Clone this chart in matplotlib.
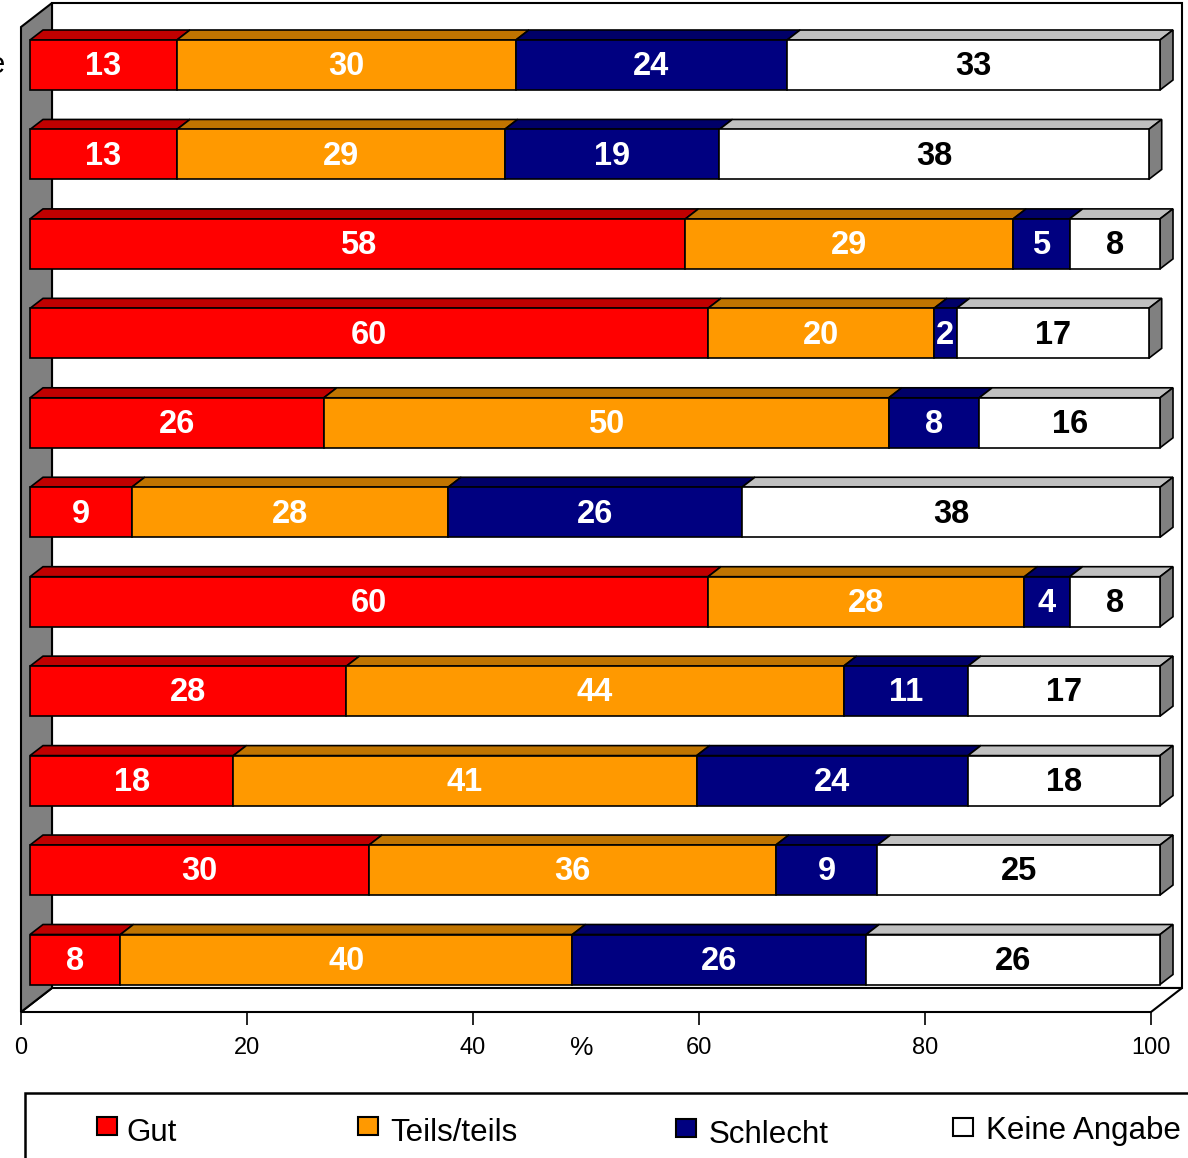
import matplotlib
matplotlib.use('Agg')
import matplotlib.pyplot as plt
from matplotlib.patches import Polygon, Rectangle
from matplotlib.transforms import ScaledTranslation

plt.rcParams['font.family'] = ['Liberation Sans', 'DejaVu Sans']

# data (percent per row, top row first)
series = ['Gut', 'Teils/teils', 'Schlecht', 'Keine Angabe']
gut = [13, 13, 58, 60, 26, 9, 60, 28, 18, 30, 8]
teils = [30, 29, 29, 20, 50, 28, 28, 44, 41, 36, 40]
schlecht = [24, 19, 5, 2, 8, 26, 4, 11, 24, 9, 26]
keine = [33, 38, 8, 17, 16, 37, 8, 17, 17, 25, 26]
keine_labels = ['33', '38', '8', '17', '16', '38', '8', '17', '18', '25', '26']

front_colors = ['#FF0000', '#FF9900', '#000080', '#FFFFFF']
top_colors = ['#C00000', '#C07400', '#000068', '#C0C0C0']
text_colors = ['white', 'white', 'white', 'black']

W, H = 1188, 1158
fig = plt.figure(figsize=(W / 100, H / 100), dpi=100)

# axes = front plane of the floor, pixel box 21..1151 x 27..1012
ax = fig.add_axes([21 / W, (H - 1012) / H, 1130 / W, 985 / H])
row_px = 89.45
y_low = (1012 - 65) / row_px
y_high = (27 - 65) / row_px

# 3d depth in data units
wall_dx, wall_dy = 31 / 11.3, 24 / row_px
bar_dx, bar_dy = 13 / 11.3, 10 / row_px
bar_h = 50 / row_px

# walls and floor
ax.add_patch(Rectangle((wall_dx, y_high - wall_dy), 100, y_low - y_high,
                       fc='white', ec='black', lw=1.5, clip_on=False, zorder=0))
ax.add_patch(Polygon([(0, y_low), (100, y_low), (100 + wall_dx, y_low - wall_dy),
                      (wall_dx, y_low - wall_dy)],
                     fc='white', ec='black', lw=1.5, clip_on=False, zorder=1))
ax.add_patch(Polygon([(0, y_low), (0, y_high), (wall_dx, y_high - wall_dy),
                      (wall_dx, y_low - wall_dy)],
                     fc='#808080', ec='black', lw=1.5, clip_on=False, zorder=1))

# bars sit a little behind the floor front
shift = ax.transData + ScaledTranslation(9 / 100, 0, fig.dpi_scale_trans)

rows = list(range(len(gut)))
values = [gut, teils, schlecht, keine]
lefts = [0] * len(rows)
for j, vals in enumerate(values):
    ax.barh(rows, vals, left=lefts, height=bar_h, color=front_colors[j],
            edgecolor='black', linewidth=1.2, transform=shift, clip_on=False, zorder=4)
    for i in rows:
        x0, x1 = lefts[i], lefts[i] + vals[i]
        yt, yb = i - bar_h / 2, i + bar_h / 2
        ax.add_patch(Polygon([(x0, yt), (x1, yt), (x1 + bar_dx, yt - bar_dy),
                              (x0 + bar_dx, yt - bar_dy)],
                             fc=top_colors[j], ec='black', lw=1.2,
                             transform=shift, clip_on=False, zorder=3))
        if j == len(values) - 1:
            ax.add_patch(Polygon([(x1, yt), (x1 + bar_dx, yt - bar_dy),
                                  (x1 + bar_dx, yb - bar_dy), (x1, yb)],
                                 fc='#808080', ec='black', lw=1.2,
                                 transform=shift, clip_on=False, zorder=3))
        label = keine_labels[i] if j == 3 else str(vals[i])
        ax.text((x0 + x1) / 2, i + 0.02, label, transform=shift, ha='center', va='center',
                color=text_colors[j], fontsize=23.5, fontweight='bold', zorder=5)
    lefts = [lefts[i] + vals[i] for i in rows]

ax.set_xlim(0, 100)
ax.set_ylim(y_low, y_high)
ax.set_xticks(range(0, 101, 20))
ax.set_yticks([])
ax.tick_params(axis='x', length=9.4, width=1.2, pad=8.5, labelsize=17, direction='out')
for s in ax.spines.values():
    s.set_visible(False)
ax.patch.set_visible(False)

fig.text(582 / W, 1 - 1048 / H, '%', ha='center', va='center', fontsize=19)
fig.text(5 / W, 1 - 65 / H, 'e', ha='right', va='center', fontsize=21)

# legend
fig.add_artist(Rectangle((25 / W, -0.05), 1.1, 0.05 + (H - 1093) / H,
                         transform=fig.transFigure, fill=False, ec='black', lw=1.8))
box_x = [97, 358, 676, 953]
box_y = [1117, 1117, 1119, 1118]
text_x = [126, 390, 709, 986]
text_base = [1141, 1141, 1143, 1139]
for j, name in enumerate(series):
    fig.add_artist(Rectangle((box_x[j] / W, 1 - (box_y[j] + 18) / H), 20 / W, 18 / H,
                             transform=fig.transFigure, fc=front_colors[j],
                             ec='black', lw=1.5))
    fig.text(text_x[j] / W, 1 - text_base[j] / H, name, ha='left', va='baseline',
             fontsize=22.5)

fig.savefig('out.png', dpi=100)
